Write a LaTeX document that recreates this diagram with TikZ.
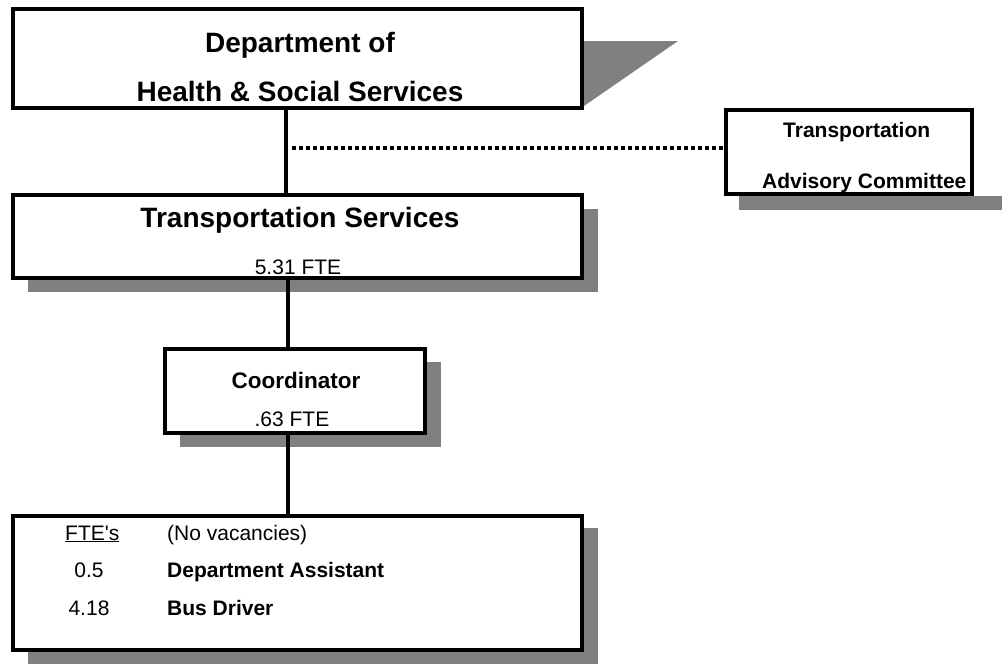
\documentclass[tikz,border=0pt]{standalone}
\usepackage{fontspec}
\setmainfont{Liberation Sans}
\begin{document}
\begin{tikzpicture}[x=1pt,y=-1pt,
  box/.style={draw=black,line width=4pt,fill=white},
  shadow/.style={fill=black!50,draw=none},
  conn/.style={line width=3.5pt},
  txt/.style={inner sep=0pt,anchor=base},
  big/.style={font=\bfseries\fontsize{28}{34}\selectfont},
  mid/.style={font=\fontsize{21}{25}\selectfont},
  midb/.style={font=\bfseries\fontsize{21}{25}\selectfont},
  cob/.style={font=\bfseries\fontsize{22.5}{27}\selectfont},
]
\useasboundingbox (0,0) rectangle (1002,667);
% shadows
\fill[shadow] (584,41) -- (678,41) -- (584,106) -- cycle;
\fill[shadow] (739,196) rectangle (1002,210);
\fill[shadow] (28,209) rectangle (598,292);
\fill[shadow] (180,362) rectangle (441,447);
\fill[shadow] (28,528) rectangle (598,664);
% boxes
\draw[box] (13,9) rectangle (582,108);
\coordinate (deptB) at (286,108);
\draw[box] (726,110) rectangle (972,194);
\coordinate (advL) at (724,148);
\draw[box] (13,195) rectangle (582,278);
\coordinate (tsT) at (286,195);
\coordinate (tsB) at (288,278);
\draw[box] (165,349) rectangle (425,433);
\coordinate (coT) at (288,349);
\coordinate (coB) at (288,433);
\draw[box] (13,516) rectangle (582,650);
\coordinate (stT) at (288,516);
\coordinate (dotS) at (292,148);
% connectors
\draw[conn] (deptB) -- (tsT);
\draw[conn] (tsB) -- (coT);
\draw[conn] (coB) -- (stT);
\draw[line width=3.5pt,dash pattern=on 3.5pt off 3.5pt] (dotS) -- (advL);
% texts
\node[txt,big] (d1) at (300,52) {Department of};
\node[txt,big] (d2) at (300,101) {Health \& Social Services};
\node[txt,big] (t1) at (300,227) {Transportation Services};
\node[txt,mid] (t2) at (298,274) {5.31 FTE};
\node[txt,cob] (c1) at (296,388) {Coordinator};
\node[txt,mid] (c2) at (292,426) {.63 FTE};
\node[txt,midb,anchor=base west] (a1) at (783,137) {Transportation};
\node[txt,midb,anchor=base west] (a2) at (762,188) {Advisory Committee};
\node[txt,mid,anchor=base west] (f1) at (65,540) {\underline{FTE\textquotesingle s}};
\node[txt,mid,anchor=base west] (f2) at (167,540) {(No vacancies)};
\node[txt,mid] (f3) at (89,577) {0.5};
\node[txt,midb,anchor=base west] (f4) at (167,577) {Department Assistant};
\node[txt,mid] (f5) at (89,615) {4.18};
\node[txt,midb,anchor=base west] (f6) at (167,615) {Bus Driver};
\end{tikzpicture}
\end{document}
